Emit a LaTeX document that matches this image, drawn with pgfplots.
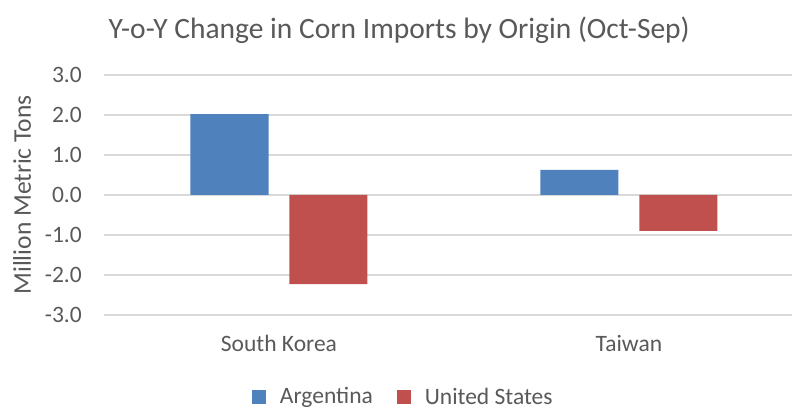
\documentclass[border=0pt]{standalone}
\usepackage{pgfplots}
\pgfplotsset{compat=1.18}
\usepackage{fontspec}
\setmainfont{Carlito}
\definecolor{txt}{HTML}{595959}
\definecolor{gridc}{HTML}{D9D9D9}
\definecolor{cblue}{HTML}{4F81BD}
\definecolor{cred}{HTML}{C0504D}
\begin{document}
\begin{tikzpicture}[x=1pt,y=1pt]
\begin{axis}[
  at={(104pt,94pt)}, anchor=south west,
  scale only axis, width=688pt, height=240pt,
  xmin=-0.5, xmax=1.466, ymin=-3, ymax=3,
  ytick={-3,-2,-1,0,1,2,3},
  xtick={0,1}, xticklabels={South Korea,Taiwan},
  axis line style={draw=none},
  major tick length=0pt,
  xmajorgrids=false, ymajorgrids=true,
  y grid style={draw=gridc, line width=1.5pt},
  yticklabel={\pgfmathprintnumber[fixed,fixed zerofill,precision=1]{\tick}},
  /pgf/number format/assume math mode=true,
  ticklabel style={font=\fontsize{23.5}{28}\selectfont, text=txt},
  yticklabel style={anchor=east, inner sep=0pt, xshift=-22pt},
  xticklabel style={anchor=north, inner sep=0pt, yshift=-20pt},
  ylabel={Million Metric Tons},
  ylabel style={at={(axis description cs:-0.119,0.5)}, anchor=center, font=\fontsize{25.5}{30}\selectfont, text=txt},
  title={Y-o-Y Change in Corn Imports by Origin (Oct-Sep)},
  title style={at={(axis description cs:0.429,1)}, anchor=south, yshift=22pt, font=\fontsize{29.5}{35}\selectfont, text=txt},
  ybar, bar width=0.223,
  legend style={at={(axis description cs:0.435,-0.34)}, anchor=center, draw=none, legend columns=2,
     font=\fontsize{23.5}{28}\selectfont, text=txt, column sep=12pt,
     /tikz/every even column/.append style={column sep=22pt}},
  legend image code/.code={\fill[#1] (0pt,-7pt) rectangle (14pt,7pt);},
  clip=false,
]
\addplot[fill=cblue, draw=none, bar shift=-0.1414] coordinates {(0,2.02) (1,0.625)};
\addplot[fill=cred, draw=none, bar shift=0.1414] coordinates {(0,-2.23) (1,-0.9)};
\legend{Argentina,United States}
\end{axis}
\pgfresetboundingbox
\path (0,0) rectangle (793,409);
\end{tikzpicture}
\end{document}
